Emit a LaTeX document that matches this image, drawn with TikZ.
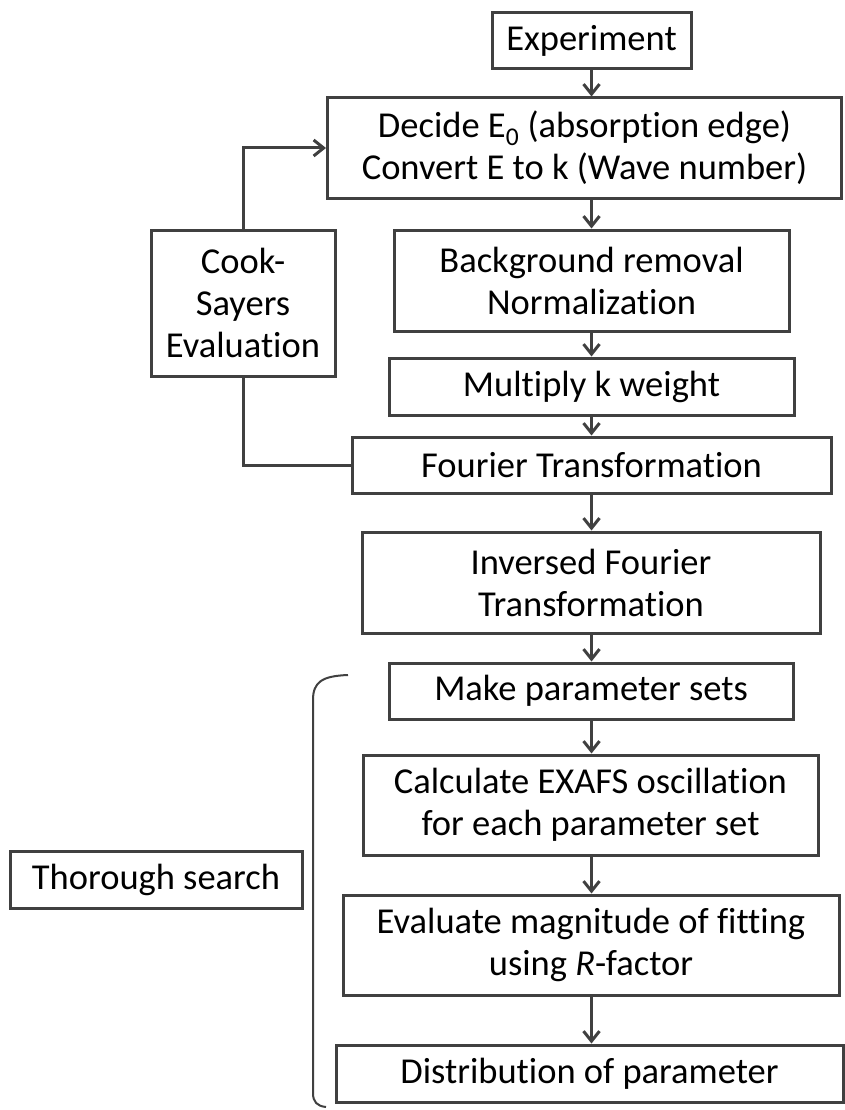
\documentclass[tikz,border=0pt]{standalone}
\usepackage{fontspec}
\setmainfont{Carlito}[Ligatures=NoCommon]
\usetikzlibrary{arrows.meta}
\definecolor{edge}{HTML}{404040}
\tikzset{
  box/.style={draw=edge, line width=3pt, rectangle, inner sep=0pt, align=center,
    font=\fontsize{36.5}{42}\selectfont, text=black},
  arr/.style={draw=edge, line width=3pt, -{Straight Barb[length=10pt,width=16pt]}},
  link/.style={draw=edge, line width=3pt},
  brace/.style={draw=edge, line width=2pt}
}
\begin{document}
\begin{tikzpicture}[x=1pt,y=-1pt]
\useasboundingbox (0,0) rectangle (845,1110);

% main chain of steps
\node[box, minimum width=199pt, minimum height=56pt] (exp) at (591.5,41) {Experiment};
\node[box, minimum width=514pt, minimum height=100pt] (dec) at (584.5,148)
  {Decide E\textsubscript{0} (absorption edge)\\Convert E to k (Wave number)};
\node[box, minimum width=395pt, minimum height=101pt] (bg) at (591.5,280.5)
  {Background removal\\Normalization};
\node[box, minimum width=405pt, minimum height=57pt] (mul) at (591.5,386.5) {Multiply k weight};
\node[box, minimum width=479pt, minimum height=56pt] (ft) at (591.5,465) {Fourier Transformation};
\node[box, minimum width=458pt, minimum height=101pt] (inv) at (591,582.5)
  {Inversed Fourier\\Transformation};
\node[box, minimum width=404pt, minimum height=56pt] (mk) at (591,691) {Make parameter sets};
\node[box, minimum width=455pt, minimum height=100pt] (calc) at (590.5,805)
  {Calculate EXAFS oscillation\\for each parameter set};
\node[box, minimum width=496pt, minimum height=100pt] (eval) at (591,945)
  {Evaluate magnitude of fitting\\using \textit{R}-factor};
\node[box, minimum width=507pt, minimum height=57pt] (dist) at (589.5,1073.5) {Distribution of parameter};

% side boxes
\node[box, minimum width=184pt, minimum height=146pt] (cook) at (243,303)
  {Cook-\\Sayers\\Evaluation};
\node[box, minimum width=292pt, minimum height=57pt] (thor) at (156,879.5) {Thorough search};

% downward arrows
\foreach \a/\b in {exp/dec, dec/bg, bg/mul, mul/ft, ft/inv, inv/mk, mk/calc, calc/eval, eval/dist}
  \draw[arr] (\a.south -| exp.south) -- (\b.north -| exp.south);

% Cook-Sayers feedback loop
\draw[arr] (cook.north) |- (dec.west);
\draw[link] (cook.south) |- (ft.west);

% bracket grouping the search steps
\coordinate (bt) at (348,675);
\coordinate (bb) at (326,1107);
\draw[brace] (bt) .. controls (322,676) and (313,682) .. (313,700)
  -- (313,1093) .. controls (313,1102) and (317,1106) .. (bb);
\end{tikzpicture}
\end{document}
